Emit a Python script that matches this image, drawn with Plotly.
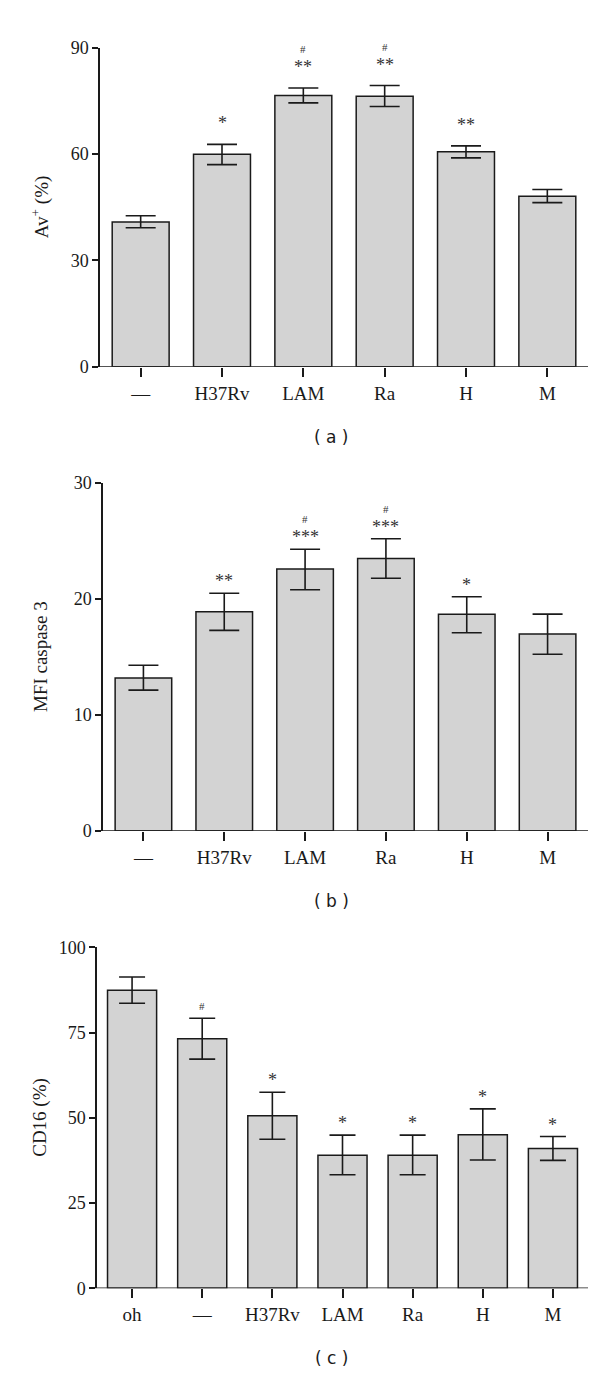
import plotly.graph_objects as go

# ---------------- data ----------------
cats_ab = ["—", "H37Rv", "LAM", "Ra", "H", "M"]
av_mean = [40.8, 59.9, 76.5, 76.3, 60.6, 48.1]
av_err_plus = [1.8, 2.8, 2.1, 3.0, 1.7, 1.9]
av_err_minus = [1.6, 2.9, 2.1, 2.9, 1.7, 1.8]
av_stars = ["", "*", "**", "**", "**", ""]
av_hash = ["", "", "#", "#", "", ""]
av_ticks = [0, 30, 60, 90]

casp_mean = [13.2, 18.9, 22.6, 23.5, 18.7, 17.0]
casp_err_plus = [1.1, 1.6, 1.7, 1.7, 1.5, 1.7]
casp_err_minus = [1.05, 1.6, 1.8, 1.7, 1.6, 1.75]
casp_stars = ["", "**", "***", "***", "*", ""]
casp_hash = ["", "", "#", "#", "", ""]
casp_ticks = [0, 10, 20, 30]

cats_c = ["oh", "—", "H37Rv", "LAM", "Ra", "H", "M"]
cd16_mean = [87.4, 73.2, 50.6, 39.0, 39.0, 45.0, 41.0]
cd16_err_plus = [3.9, 6.0, 6.9, 5.9, 5.9, 7.6, 3.5]
cd16_err_minus = [3.8, 6.0, 6.9, 5.7, 5.7, 7.4, 3.5]
cd16_stars = ["", "#", "*", "*", "*", "*", "*"]
cd16_ticks = [0, 25, 50, 75, 100]

# ---------------- layout helpers ----------------
W, H = 600, 1376
INK = "#1a1a1a"
BAR = "#d3d3d3"
SERIF = "Liberation Serif, Times New Roman, serif"
SANS = "DejaVu Sans, Verdana, sans-serif"


def px_x(p):
    return p / W


def px_y(p):
    return 1 - p / H


panels = [
    # (cats, mean, plus, minus, stars, hashes, ticks, ymax, ytitle, label,
    #  x0, x1, ytop, ybot, axis_line_start, cap, star_shift, tag)
    dict(cats=cats_ab, mean=av_mean, plus=av_err_plus, minus=av_err_minus,
         stars=av_stars, hashes=av_hash, ticks=av_ticks, ymax=90,
         ytitle="Av<sup>+</sup> (%)", label="( a )",
         x0=92, x1=580, yt=30, yb=354, xl=86, cap=15, sshift=21, lab_y=425),
    dict(cats=cats_ab, mean=casp_mean, plus=casp_err_plus, minus=casp_err_minus,
         stars=casp_stars, hashes=casp_hash, ticks=casp_ticks, ymax=30,
         ytitle="MFI caspase 3", label="( b )",
         x0=95, x1=580, yt=472, yb=825, xl=88, cap=15, sshift=12, lab_y=896),
    dict(cats=cats_c, mean=cd16_mean, plus=cd16_err_plus, minus=cd16_err_minus,
         stars=cd16_stars, hashes=None, ticks=cd16_ticks, ymax=100,
         ytitle="CD16 (%)", label="( c )",
         x0=89, x1=580, yt=943, yb=1289, xl=81, cap=13, sshift=12, lab_y=1360),
]

fig = go.Figure()
annotations = []
shapes = []
layout_axes = {}

for i, p in enumerate(panels, start=1):
    xa = "x" if i == 1 else f"x{i}"
    ya = "y" if i == 1 else f"y{i}"
    xkey = "xaxis" if i == 1 else f"xaxis{i}"
    ykey = "yaxis" if i == 1 else f"yaxis{i}"

    fig.add_trace(go.Bar(
        x=p["cats"], y=p["mean"], xaxis=xa, yaxis=ya, width=0.7,
        marker=dict(color=BAR, line=dict(color=INK, width=1.5)),
        error_y=dict(type="data", symmetric=False, array=p["plus"],
                     arrayminus=p["minus"], color=INK, thickness=1.6,
                     width=p["cap"]),
        showlegend=False, hoverinfo="skip",
    ))

    n = len(p["cats"])
    layout_axes[xkey] = dict(
        domain=[px_x(p["x0"]), px_x(p["x1"])], anchor=ya,
        type="category", categoryorder="array", categoryarray=p["cats"],
        range=[-0.5, n - 0.5], showline=False, showgrid=False, zeroline=False,
        ticks="outside", ticklen=9, tickwidth=1.5, tickcolor=INK,
        tickfont=dict(family=SERIF, size=19, color=INK), fixedrange=True,
    )
    layout_axes[ykey] = dict(
        domain=[px_y(p["yb"]), px_y(p["yt"])], anchor=xa,
        range=[0, p["ymax"]], tickvals=p["ticks"],
        showline=True, linecolor=INK, linewidth=1.5, showgrid=False,
        zeroline=False, ticks="outside", ticklen=6, tickwidth=1.5,
        tickcolor=INK, tickfont=dict(family=SERIF, size=18, color=INK),
        fixedrange=True,
    )

    # x axis baseline (extends slightly left of the y axis)
    shapes.append(dict(type="line", xref="paper", yref=ya,
                       x0=px_x(p["xl"]), x1=px_x(p["x1"]), y0=0, y1=0,
                       line=dict(color=INK, width=1.5)))

    # significance marks
    for j, c in enumerate(p["cats"]):
        top = p["mean"][j] + p["plus"][j]
        s = p["stars"][j]
        if s:
            is_hash = s == "#"
            annotations.append(dict(
                x=c, y=top, xref=xa, yref=ya, text=s, showarrow=False,
                yanchor="middle", yshift=p["sshift"],
                font=dict(family=SERIF, size=11 if is_hash else 18, color="#333")))
        if p["hashes"] and p["hashes"][j]:
            annotations.append(dict(
                x=c, y=top, xref=xa, yref=ya, text=p["hashes"][j],
                showarrow=False, yanchor="middle", yshift=p["sshift"] + 18,
                font=dict(family=SERIF, size=11, color="#333")))

    # y-axis title
    annotations.append(dict(
        x=px_x(32), y=px_y((p["yt"] + p["yb"]) / 2), xref="paper", yref="paper",
        text=p["ytitle"], textangle=-90, showarrow=False,
        xanchor="center", yanchor="middle",
        font=dict(family=SERIF, size=19, color=INK)))

    # panel label
    annotations.append(dict(
        x=px_x(323), y=px_y(p["lab_y"]), xref="paper", yref="paper",
        text=p["label"], showarrow=False, xanchor="center", yanchor="middle",
        font=dict(family=SANS, size=17, color=INK)))

fig.update_layout(
    width=W, height=H, margin=dict(l=0, r=0, t=0, b=0),
    paper_bgcolor="white", plot_bgcolor="white",
    annotations=annotations, shapes=shapes, bargap=0.3,
    **layout_axes,
)

fig.write_html("out.html")
